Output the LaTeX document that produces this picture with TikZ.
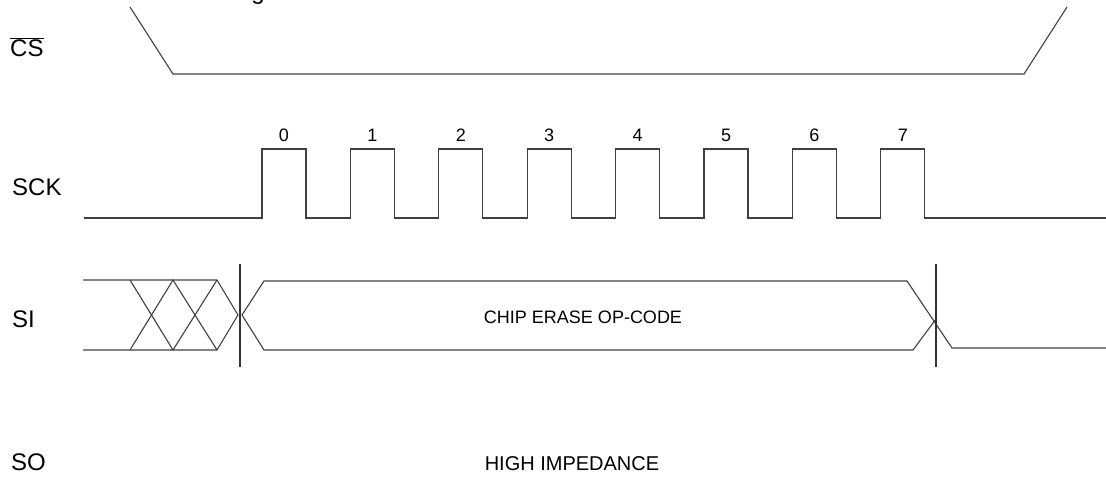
\documentclass[tikz,border=0pt]{standalone}
\usepackage{fontspec}
\setmainfont{Liberation Sans}
\begin{document}
\begin{tikzpicture}[x=1pt,y=-1pt,
  sig/.style={draw=black!75,line width=1.1pt,line join=miter},
  guide/.style={draw=black!80,line width=1.1pt},
  lbl/.style={font=\fontsize{24}{28}\selectfont,anchor=base west,inner sep=0pt},
  bitno/.style={font=\fontsize{18}{21}\selectfont,anchor=base,inner sep=0pt},
  note/.style={font=\fontsize{18}{22}\selectfont,anchor=base,inner sep=0pt}]

\useasboundingbox (0,0) rectangle (1106,477);

% signal names
\node[lbl] (cs) at (10,56) {$\overline{\mbox{CS}}$};
\node[lbl] (sck) at (12,195) {SCK};
\node[lbl] (si) at (12,327) {SI};
\node[lbl] (so) at (11,470) {SO};
\node[lbl,anchor=base] (cut) at (258,-1) {g};

% chip select
\draw[sig] (130,7) -- (173,74) -- (1024,74) -- (1067,7);

% serial clock, bits 0..7
\draw[sig] (84,218) -- (262,218)
  \foreach \i in {0,...,7} {
    -- ({262+88.4*\i},218) -- ({262+88.4*\i},149) -- ({306+88.4*\i},149) -- ({306+88.4*\i},218)
  } -- (1106,218);
\foreach \i in {0,...,7}
  \node[bitno] (bit\i) at ({284+88.4*\i},141) {\i};

% serial input, don't care
\draw[sig] (83,280) -- (217,280) -- (238,315) -- (217,350) -- (83,350);
\draw[sig] (130,280) -- (173,350) -- (217,280);
\draw[sig] (130,350) -- (173,280) -- (217,350);

% serial input, op-code
\draw[sig] (907,281) -- (264,281) -- (242,315) -- (264,350) -- (913,350) -- (936,319);
\draw[sig] (907,281) -- (952,348) -- (1106,348);
\draw[guide] (240,264) -- (240,367);
\draw[guide] (936,264) -- (936,367);
\node[note] (opc) at (583,323) {CHIP ERASE OP-CODE};

% serial output
\node[note,font=\fontsize{20}{24}\selectfont] (hiz) at (572,470) {HIGH IMPEDANCE};
\end{tikzpicture}
\end{document}
